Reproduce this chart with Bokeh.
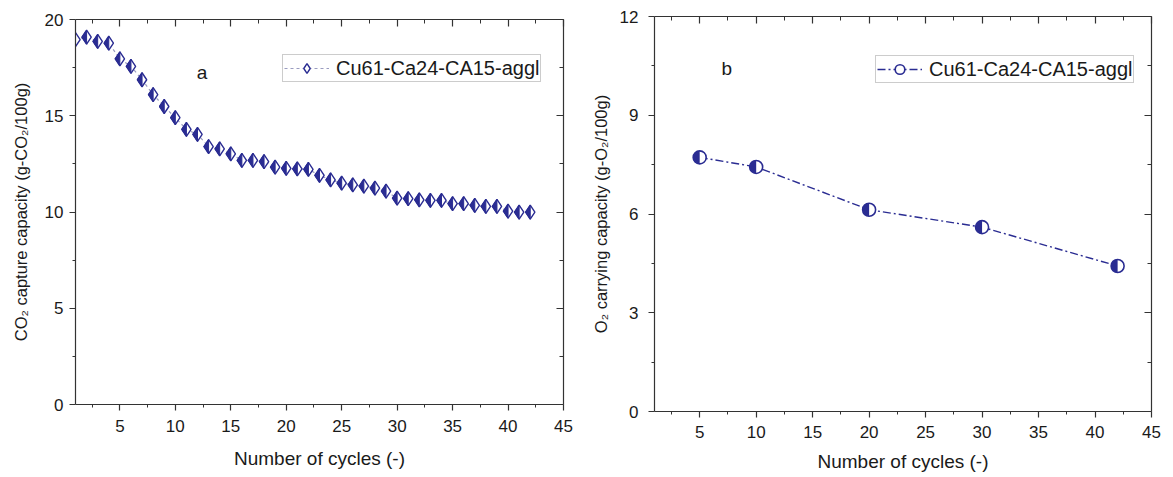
from math import pi

from bokeh.plotting import figure
from bokeh.models import Range1d, LinearAxis, FixedTicker, Legend, LegendItem, Label
from bokeh.layouts import row, column
from bokeh.embed import file_html
from bokeh.resources import INLINE

# ---------------- data ----------------
cycles_a = list(range(1, 43))
co2_capacity = [18.96, 19.08, 18.86, 18.77, 17.96, 17.57, 16.87, 16.10, 15.48, 14.90,
                14.29, 14.03, 13.40, 13.28, 13.02, 12.68, 12.68, 12.62, 12.33, 12.27,
                12.24, 12.22, 11.90, 11.67, 11.50, 11.41, 11.34, 11.24, 11.08, 10.72,
                10.69, 10.63, 10.60, 10.60, 10.43, 10.43, 10.34, 10.29, 10.29, 10.04,
                9.99, 9.99]
cycles_b = [5, 10, 20, 30, 42]
o2_capacity = [7.72, 7.43, 6.13, 5.60, 4.42]
series_label = "Cu61-Ca24-CA15-aggl"

x_ticks = [5, 10, 15, 20, 25, 30, 35, 40, 45]
x_minor = [2.5, 7.5, 12.5, 17.5, 22.5, 27.5, 32.5, 37.5, 42.5]
ya_ticks = [0, 5, 10, 15, 20]
ya_minor = [2.5, 7.5, 12.5, 17.5]
yb_ticks = [0, 3, 6, 9, 12]
yb_minor = [1.5, 4.5, 7.5, 10.5]

# ---------------- style ----------------
FONT = "Liberation Sans"
AX = "#333333"
TXT = "#1a1a1a"
NAVY = "#2a2c92"


def style_axis(ax, outer=True, labels=True, label_standoff=6, title_standoff=10,
               title_size="19px"):
    ax.axis_line_color = AX
    ax.axis_line_width = 1.2
    ax.major_tick_line_color = AX
    ax.minor_tick_line_color = AX
    ax.major_tick_line_width = 1.2
    ax.minor_tick_line_width = 1.0
    if outer:
        ax.major_tick_out = 6
        ax.major_tick_in = 0
        ax.minor_tick_out = 3
        ax.minor_tick_in = 0
    else:
        ax.major_tick_out = 0
        ax.major_tick_in = 7
        ax.minor_tick_out = 0
        ax.minor_tick_in = 4
    if labels:
        ax.major_label_text_font = FONT
        ax.major_label_text_font_size = "17px"
        ax.major_label_text_color = TXT
        ax.major_label_standoff = label_standoff
        ax.axis_label_text_font = FONT
        ax.axis_label_text_font_size = title_size
        ax.axis_label_text_font_style = "normal"
        ax.axis_label_text_color = TXT
        ax.axis_label_standoff = title_standoff
    else:
        ax.major_label_text_color = None
        ax.major_label_text_font_size = "1px"
        ax.major_label_standoff = 0


def make_fig(width, height, yr, xt, yt, borders):
    l, r, t, b = borders
    p = figure(width=width, height=height, x_range=Range1d(1, 45), y_range=yr,
               output_backend="svg", toolbar_location=None,
               x_axis_location=None, y_axis_location=None,
               min_border_left=l, min_border_right=r, min_border_top=t, min_border_bottom=b)
    p.xgrid.visible = False
    p.ygrid.visible = False
    p.outline_line_color = None
    p.background_fill_color = "white"
    p.border_fill_color = "white"
    bottom = LinearAxis(ticker=xt)
    left = LinearAxis(ticker=yt)
    top = LinearAxis(ticker=xt)
    right = LinearAxis(ticker=yt)
    p.add_layout(bottom, "below")
    p.add_layout(left, "left")
    p.add_layout(top, "above")
    p.add_layout(right, "right")
    style_axis(top, outer=False, labels=False)
    style_axis(right, outer=False, labels=False)
    return p, bottom, left


def style_legend(lg):
    lg.border_line_color = "#9a9a9a"
    lg.border_line_width = 1
    lg.padding = 1
    lg.margin = 0
    lg.spacing = 0
    lg.glyph_width = 45
    lg.glyph_height = 24
    lg.label_height = 24
    lg.label_standoff = 7
    lg.label_text_font = FONT
    lg.label_text_font_size = "20px"
    lg.label_text_color = TXT
    lg.background_fill_color = "white"
    lg.background_fill_alpha = 1.0


# ---------------- chart a ----------------
pa, xa_axis, ya_axis = make_fig(588, 476, Range1d(0, 20),
                                FixedTicker(ticks=x_ticks, minor_ticks=x_minor),
                                FixedTicker(ticks=ya_ticks, minor_ticks=ya_minor),
                                (75, 25, 19, 72))
style_axis(xa_axis, outer=True, labels=True, label_standoff=9, title_standoff=13)
style_axis(ya_axis, outer=True, labels=True, label_standoff=6, title_standoff=12,
           title_size="16.5px")
xa_axis.axis_label = "Number of cycles (-)"
ya_axis.axis_label = "CO\u2082 capture capacity (g-CO\u2082/100g)"

line_a = pa.line(cycles_a, co2_capacity, line_color="#9a9cc0", line_width=1.2, line_dash="3 3")
mk_a = pa.scatter(cycles_a, co2_capacity, marker="diamond", size=14,
                  fill_color="white", line_color=NAVY, line_width=1.4)

# left half of each diamond (filled), sized to the marker in screen pixels
sx_a = 488 / 44.0
sy_a = 385 / 20.0
hw = (7 / 1.5) / sx_a
hh = 7 / sy_a
xs_half = [[x - hw, x, x] for x in cycles_a]
ys_half = [[y, y + hh, y - hh] for y in co2_capacity]
pa.patches(xs_half, ys_half, fill_color=NAVY, line_color=NAVY, line_width=1.0)

lga = Legend(items=[LegendItem(label=series_label, renderers=[line_a, mk_a])],
             location=(207, 322))
style_legend(lga)
pa.add_layout(lga)

pa.add_layout(Label(x=12.42, y=17.26, text="a", text_font=FONT, text_font_size="19px",
                    text_color=TXT, text_align="center", text_baseline="middle"))

# ---------------- chart b ----------------
pb, xb_axis, yb_axis = make_fig(577, 476, Range1d(0, 12),
                                FixedTicker(ticks=x_ticks, minor_ticks=x_minor),
                                FixedTicker(ticks=yb_ticks, minor_ticks=yb_minor),
                                (62, 14, 16, 65))
style_axis(xb_axis, outer=True, labels=True, label_standoff=8, title_standoff=10)
style_axis(yb_axis, outer=True, labels=True, label_standoff=10, title_standoff=7,
           title_size="16.5px")
xb_axis.axis_label = "Number of cycles (-)"
yb_axis.axis_label = "O\u2082 carrying capacity (g-O\u2082/100g)"

line_b = pb.line(cycles_b, o2_capacity, line_color=NAVY, line_width=1.4, line_dash="8 3 2 3")
mk_b = pb.scatter(cycles_b, o2_capacity, marker="circle", size=13,
                  fill_color="white", line_color=NAVY, line_width=1.6)
pb.wedge(cycles_b, o2_capacity, radius=6.5, radius_units="screen",
         start_angle=pi / 2, end_angle=3 * pi / 2,
         fill_color=NAVY, line_color=None)

lgb = Legend(items=[LegendItem(label=series_label, renderers=[line_b, mk_b])],
             location=(221, 328))
style_legend(lgb)
pb.add_layout(lgb)

pb.add_layout(Label(x=7.41, y=10.42, text="b", text_font=FONT, text_font_size="19px",
                    text_color=TXT, text_align="center", text_baseline="middle"))

layout = row(column(pa), column(pb))
open("out.html", "w").write(file_html(layout, INLINE))
